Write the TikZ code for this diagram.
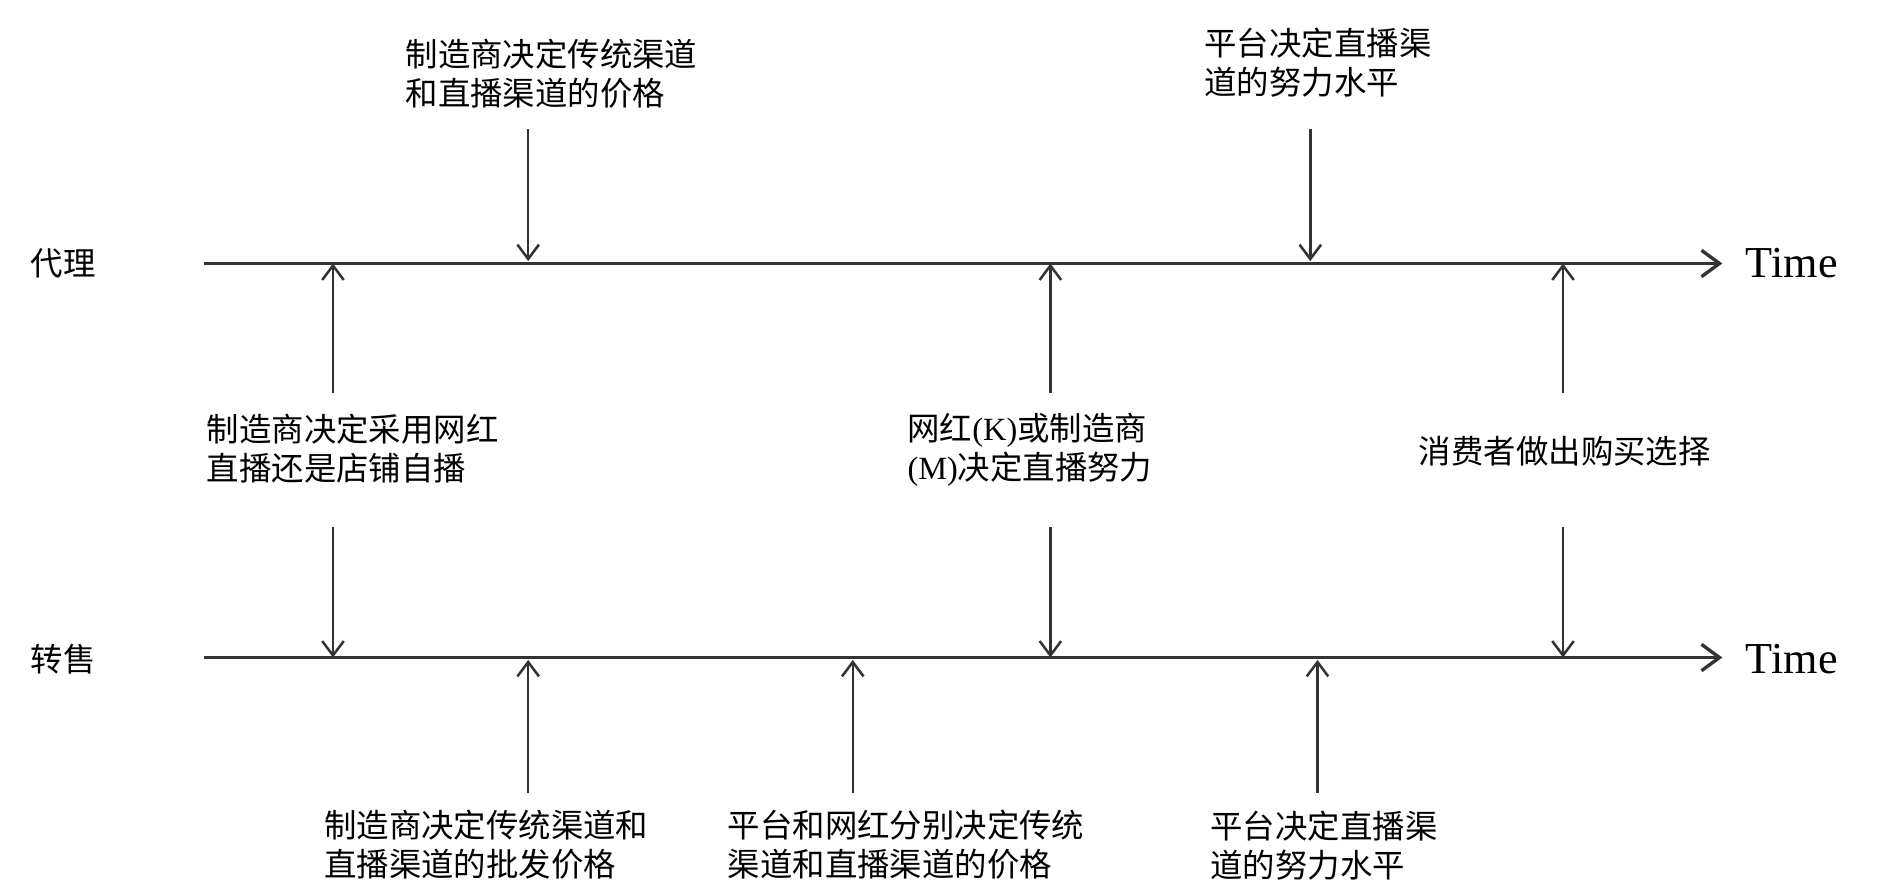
\documentclass[tikz,border=0pt]{standalone}
\usepackage{fontspec}
\setmainfont{Liberation Serif}
\newfontfamily\cjk{Noto Sans CJK SC}
\usepackage{tikz}
\usetikzlibrary{arrows.meta}

\begin{document}
\begin{tikzpicture}
    \tikzstyle{every node} = [font=\fontsize{7.7}{9.2}\selectfont\cjk, inner sep=0pt]
    \tikzstyle{label} = [anchor=west, align=left]
    \tikzstyle{timeline} = [-{Straight Barb[length=1.5mm,width=2.2mm]}, line width=0.8pt, draw=black!80]
    \tikzstyle{event} = [-{Straight Barb[length=1.2mm,width=1.8mm]}, line width=0.6pt, draw=black!80]
    \useasboundingbox (0,0) rectangle (15.68,7.48);

    % place nodes
    \node[anchor=west] (agency) at (0.25,5.28) {代理};
    \node[anchor=west] (resale) at (0.25,1.98) {转售};
    \coordinate (agencyStart) at (1.70,5.28);
    \coordinate (agencyEnd) at (14.38,5.28);
    \coordinate (resaleStart) at (1.70,1.99);
    \coordinate (resaleEnd) at (14.38,1.99);
    \node[anchor=west, font=\fontsize{10.5}{12}\selectfont] (agencyTime) at (14.57,5.28) {Time};
    \node[anchor=west, font=\fontsize{10.5}{12}\selectfont] (resaleTime) at (14.57,1.98) {Time};

    \node[label] (topPrice) at (3.38,6.865) {制造商决定传统渠道\\和直播渠道的价格};
    \node[label] (topEffort) at (10.05,6.955) {平台决定直播渠\\道的努力水平};
    \node[label] (chooseMode) at (1.72,3.735) {制造商决定采用网红\\直播还是店铺自播};
    \node[label] (liveEffort) at (7.57,3.725) {网红{\rmfamily(K)}或制造商\\{\rmfamily(M)}决定直播努力};
    \node[label] (buyChoice) at (11.84,3.71) {消费者做出购买选择};
    \node[label] (wholesale) at (2.70,0.43) {制造商决定传统渠道和\\直播渠道的批发价格};
    \node[label] (retailPrice) at (6.07,0.43) {平台和网红分别决定传统\\渠道和直播渠道的价格};
    \node[label] (bottomEffort) at (10.10,0.42) {平台决定直播渠\\道的努力水平};

    % Connections
    \draw[timeline] (agencyStart)--(agencyEnd);
    \draw[timeline] (resaleStart)--(resaleEnd);

    \foreach \i/\x in {1/4.41,2/10.94}{
        \coordinate (topTail\i) at (\x,6.40);
        \coordinate (topHit\i) at (\x,5.30);
        \draw[event] (topTail\i)--(topHit\i);
    }
    \foreach \i/\x in {1/2.78,2/8.77,3/13.05}{
        \coordinate (midUp\i) at (\x,4.20);
        \coordinate (agencyHit\i) at (\x,5.28);
        \coordinate (midDown\i) at (\x,3.08);
        \coordinate (resaleHit\i) at (\x,1.99);
        \draw[event] (midUp\i)--(agencyHit\i);
        \draw[event] (midDown\i)--(resaleHit\i);
    }
    \foreach \i/\x in {1/4.41,2/7.12,3/11.00}{
        \coordinate (lowTail\i) at (\x,0.86);
        \coordinate (lowHit\i) at (\x,1.97);
        \draw[event] (lowTail\i)--(lowHit\i);
    }
\end{tikzpicture}
\end{document}
